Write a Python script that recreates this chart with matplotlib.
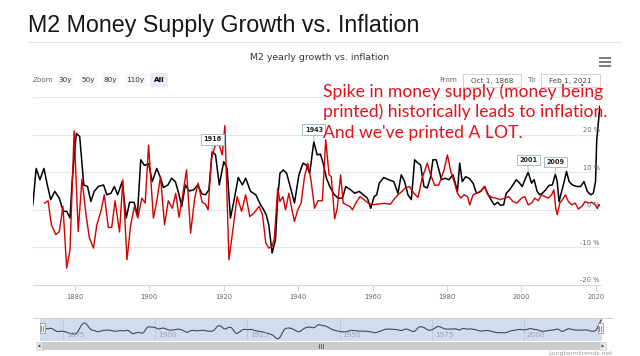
import numpy as np
import matplotlib
matplotlib.use("Agg")
import matplotlib.pyplot as plt
from matplotlib.patches import Rectangle, Polygon
from matplotlib.lines import Line2D

# ---------------- data ----------------
m2_years = [1868.7, 1869.6, 1870.6, 1871.7, 1872.6, 1873.5, 1874.6, 1875.8, 1876.9, 1877.8,
            1878.7, 1879.3, 1879.8, 1880.4, 1881.3, 1882.4, 1883.4, 1884.3, 1885.2, 1886.3,
            1887.7, 1888.6, 1889.7, 1890.6, 1891.5, 1892.7, 1893.8, 1894.7, 1895.9, 1896.8,
            1897.7, 1898.7, 1899.8, 1900.8, 1902.0, 1902.9, 1903.8, 1905.0, 1906.0, 1907.0,
            1907.9, 1908.7, 1909.7, 1910.7, 1911.9, 1913.0, 1914.2, 1915.1, 1916.0, 1916.9,
            1917.8, 1918.8, 1920.0, 1920.9, 1921.8, 1922.7, 1923.9, 1925.0, 1925.9, 1927.2,
            1928.6, 1929.9, 1930.5, 1931.4, 1932.1, 1933.0, 1933.9, 1934.5, 1935.1, 1936.0,
            1936.9, 1938.1, 1939.0, 1940.2, 1941.3, 1942.2, 1943.1, 1944.2, 1945.1, 1946.0,
            1946.7, 1947.6, 1948.5, 1949.6, 1950.7, 1951.9, 1952.8, 1954.1, 1955.2, 1956.4,
            1957.5, 1958.6, 1959.5, 1960.4, 1961.1, 1961.8, 1963.0, 1964.3, 1965.7, 1966.8,
            1967.7, 1968.6, 1969.5, 1970.4, 1971.3, 1972.2, 1972.9, 1973.8, 1974.7, 1975.6,
            1976.2, 1977.1, 1977.8, 1978.5, 1979.4, 1980.5, 1981.6, 1982.8, 1983.4, 1984.1,
            1985.0, 1985.9, 1987.0, 1987.9, 1989.1, 1990.0, 1990.9, 1991.8, 1992.7, 1993.6,
            1994.3, 1995.2, 1995.9, 1996.8, 1997.7, 1998.6, 1999.5, 2000.2, 2001.1, 2001.8,
            2002.7, 2003.4, 2004.2, 2004.9, 2005.6, 2006.5, 2007.4, 2008.3, 2009.1, 2009.6,
            2010.1, 2010.9, 2011.6, 2012.1, 2012.8, 2013.7, 2014.8, 2015.9, 2016.8, 2017.7,
            2018.6, 2019.3, 2019.9, 2020.2, 2020.7, 2021.05]
m2_growth = [1.3, 11.0, 8.0, 11.0, 6.6, 2.7, 4.9, 3.1, -0.4, -0.4,
             -2.2, 8.0, 14.0, 20.3, 19.5, 6.6, 6.2, 2.2, 4.9, 6.2,
             6.6, 4.0, 4.4, 6.2, 4.0, 7.5, -2.2, 2.0, 2.0, -1.3,
             13.3, 11.8, 12.3, 7.5, 11.0, 8.8, 5.9, 6.6, 8.4, 7.5,
             4.4, 0.9, 6.6, 5.0, 5.3, 6.6, 4.2, 4.0, 5.3, 15.5,
             14.6, 6.6, 12.8, 11.0, -2.2, 2.2, 8.6, 6.6, 8.4, 4.9,
             4.0, 1.3, 0.4, -1.3, -4.0, -11.5, -8.0, 3.1, 9.7, 10.6,
             9.7, 5.3, 1.8, 9.3, 12.4, 11.9, 9.7, 18.1, 14.6, 14.8,
             12.4, 8.4, 6.2, 4.2, 3.1, 3.1, 6.2, 5.3, 4.4, 4.9,
             4.0, 3.1, 0.4, 3.5, 4.0, 7.1, 8.6, 8.0, 7.5, 4.4,
             9.3, 7.5, 4.0, 2.7, 13.3, 12.4, 11.9, 6.2, 5.8, 8.8,
             13.3, 13.3, 10.6, 8.0, 8.4, 8.0, 9.3, 4.9, 12.4, 7.5,
             8.8, 8.4, 7.1, 4.4, 4.9, 6.2, 4.4, 2.7, 1.3, 2.0,
             1.2, 1.3, 4.4, 5.3, 6.6, 8.0, 7.1, 6.2, 8.4, 10.0,
             7.1, 8.0, 4.9, 4.0, 4.4, 5.3, 6.5, 6.6, 9.5, 7.5,
             2.2, 5.3, 8.0, 10.2, 7.5, 6.6, 6.2, 6.2, 7.5, 4.9,
             4.0, 4.4, 7.5, 18.1, 23.5, 27.5]

cpi_years = [1871.9, 1872.8, 1873.7, 1874.9, 1875.8, 1876.8, 1877.8, 1878.7, 1879.8, 1880.9,
             1881.9, 1883.0, 1883.9, 1885.0, 1885.9, 1887.0, 1887.9, 1889.0, 1889.9, 1890.8,
             1892.0, 1892.9, 1894.0, 1895.0, 1896.0, 1896.9, 1898.0, 1898.9, 1899.8, 1901.1,
             1902.0, 1903.0, 1904.1, 1905.1, 1906.2, 1907.1, 1908.0, 1908.9, 1910.0, 1911.1,
             1912.2, 1913.1, 1914.2, 1915.1, 1915.8, 1916.7, 1917.6, 1918.5, 1919.6, 1920.3,
             1921.4, 1922.4, 1923.6, 1924.8, 1925.9, 1927.0, 1928.1, 1929.5, 1930.4, 1931.3,
             1932.1, 1933.0, 1933.6, 1934.5, 1935.1, 1935.9, 1936.6, 1937.5, 1938.4, 1939.0,
             1939.9, 1940.8, 1941.7, 1942.6, 1943.5, 1944.4, 1945.3, 1946.5, 1947.4, 1948.3,
             1948.9, 1949.8, 1950.5, 1951.4, 1952.1, 1953.0, 1953.9, 1954.6, 1955.5, 1956.6,
             1957.7, 1958.8, 1959.7, 1961.1, 1963.2, 1964.8, 1965.7, 1966.8, 1967.9, 1968.8,
             1969.9, 1971.1, 1972.2, 1973.3, 1974.7, 1975.6, 1976.7, 1977.8, 1979.2, 1980.1,
             1981.0, 1981.9, 1982.8, 1983.7, 1984.6, 1985.5, 1986.1, 1987.0, 1988.2, 1989.1,
             1990.2, 1990.9, 1992.1, 1993.1, 1994.3, 1995.5, 1996.6, 1997.7, 1998.8, 2000.0,
             2000.9, 2001.8, 2002.7, 2003.6, 2004.5, 2005.4, 2006.3, 2007.2, 2008.1, 2008.7,
             2009.2, 2009.6, 2010.3, 2011.0, 2011.8, 2012.6, 2013.5, 2014.4, 2015.3, 2016.2,
             2017.1, 2018.0, 2018.9, 2019.8, 2020.4, 2020.8, 2021.05]
inflation = [1.8, 2.4, -4.0, -6.6, -5.8, 0.9, -15.5, -10.6, 21.0, -5.8,
             8.2, -1.3, -7.5, -10.2, -4.0, -0.4, 4.0, -4.7, -4.7, 2.4,
             -5.9, 8.0, -13.3, -4.0, 0.9, -2.2, 3.1, 1.8, 17.2, -2.2,
             2.2, 8.8, -4.0, 2.4, 0.4, 4.4, -2.0, 3.5, 10.6, -6.2,
             3.1, 7.1, 2.0, 1.5, 0.0, 13.7, 16.8, 18.1, 14.6, 22.4,
             -13.3, -5.8, 3.5, -0.4, 4.0, -1.8, -0.9, 0.9, -1.3, -8.8,
             -10.2, -9.7, -7.5, 5.8, 2.2, 3.5, 0.0, 4.4, -0.4, -3.1,
             0.0, 1.8, 8.8, 12.4, 7.5, 0.4, 2.4, 2.4, 18.6, 9.3,
             8.8, -2.4, 0.4, 9.3, 1.8, 1.3, 0.9, 0.0, 1.8, 3.5,
             2.7, 1.8, 1.3, 1.5, 1.7, 1.5, 2.7, 4.0, 4.9, 5.8,
             6.2, 4.4, 3.3, 8.4, 12.4, 9.3, 6.5, 6.6, 10.6, 14.6,
             10.2, 7.5, 4.4, 3.1, 4.0, 3.5, 1.3, 4.0, 4.5, 5.0,
             6.2, 4.0, 3.3, 3.1, 2.7, 3.1, 3.5, 2.2, 1.8, 3.1,
             3.5, 1.3, 1.8, 3.1, 2.4, 4.0, 3.5, 3.1, 4.0, 5.3,
             0.4, -1.3, 1.8, 2.7, 4.0, 2.2, 1.3, 1.8, 0.2, 0.9,
             2.2, 1.8, 2.0, 1.3, 0.3, 1.4, 1.2]

flag_labels = ["1916", "1943", "2001", "2009"]
flag_years = [1916.9, 1944.2, 2001.8, 2009.1]

x_ticks = [1880, 1900, 1920, 1940, 1960, 1980, 2000, 2020]
y_ticks = [-20, -10, 0, 10, 20]
nav_ticks = [1875, 1900, 1925, 1950, 1975, 2000]
zoom_buttons = ["30y", "50y", "80y", "110y", "All"]
date_from, date_to = "Oct 1, 1868", "Feb 1, 2021"

title = "M2 Money Supply Growth vs. Inflation"
chart_title = "M2 yearly growth vs. inflation"
note_lines = ["Spike in money supply (money being",
              "printed) historically leads to inflation.",
              "And we've printed A LOT."]
credit = "Longtermtrends.net"

# ---------------- figure ----------------
W, H = 640, 356
fig = plt.figure(figsize=(W / 100, H / 100), dpi=100)
fig.patch.set_facecolor("white")
renderer = fig.canvas.get_renderer()


def fx(px):
    return px / W


def fy(py):
    return 1 - py / H


def fit(t, width_px):
    bb = t.get_window_extent(renderer=renderer)
    t.set_fontsize(t.get_fontsize() * width_px / bb.width)


def frect(x0, y0, x1, y1, **kw):
    r = Rectangle((fx(x0), fy(y1)), (x1 - x0) / W, (y1 - y0) / H,
                  transform=fig.transFigure, **kw)
    fig.add_artist(r)
    return r


def fline(xs, ys, **kw):
    fig.add_artist(Line2D([fx(v) for v in xs], [fy(v) for v in ys],
                          transform=fig.transFigure, **kw))


# page title
t = fig.text(fx(28), fy(32), title, ha="left", va="baseline",
             fontsize=16, family="Liberation Sans", color="#161616")
fit(t, 392)
fline([28, 620], [42, 42], color="#e3e3e3", lw=0.8)

# chart title
t = fig.text(fx(320), fy(58), chart_title, ha="center", va="center",
             fontsize=7, family="DejaVu Sans", color="#333333")
fit(t, 140)

# hamburger icon
for yy in (58, 62, 66):
    fline([599, 611], [yy, yy], color="#666666", lw=1.2, solid_capstyle="butt")

# zoom buttons
fig.text(fx(33), fy(80), "Zoom", ha="left", va="center", fontsize=5.2,
         family="DejaVu Sans", color="#666666")
btn_x = [(57, 74), (80, 97), (102, 119), (125, 146), (150, 168)]
for lab, (x0, x1) in zip(zoom_buttons, btn_x):
    sel = lab == "All"
    frect(x0, 73, x1, 87, facecolor="#e6ebf5" if sel else "#f7f7f7",
          edgecolor="none")
    fig.text(fx((x0 + x1) / 2), fy(80), lab, ha="center", va="center",
             fontsize=5.2, family="DejaVu Sans", color="#000000" if sel else "#333333",
             fontweight="bold" if sel else "normal")

# date range inputs
fig.text(fx(457), fy(80.5), "From", ha="right", va="center", fontsize=5.2,
         family="DejaVu Sans", color="#666666")
frect(463, 74, 521, 87, facecolor="white", edgecolor="#cccccc", lw=0.6)
fig.text(fx(492), fy(80.5), date_from, ha="center", va="center", fontsize=5.2,
         family="DejaVu Sans", color="#444444")
fig.text(fx(536), fy(80.5), "To", ha="right", va="center", fontsize=5.2,
         family="DejaVu Sans", color="#666666")
frect(541, 74, 600, 87, facecolor="white", edgecolor="#cccccc", lw=0.6)
fig.text(fx(570.5), fy(80.5), date_to, ha="center", va="center", fontsize=5.2,
         family="DejaVu Sans", color="#444444")

# ---------------- main plot ----------------
x0_year, x1_year = 1868.75, 2021.1
ax = fig.add_axes([fx(33), fy(285), fx(600) - fx(33), fy(97) - fy(285)])
ax.set_xlim(x0_year, x1_year)
ax.set_ylim(-20, 30)
ax.set_facecolor("none")
for s in ("top", "right", "left"):
    ax.spines[s].set_visible(False)
ax.spines["bottom"].set_color("#ccd6eb")
ax.spines["bottom"].set_linewidth(0.8)
for v in y_ticks[1:] + [30]:
    ax.axhline(v, color="#e6e6e6", lw=0.8, zorder=0)
ax.set_yticks([])
ax.set_xticks(x_ticks)
ax.set_xticklabels([str(v) for v in x_ticks])
ax.tick_params(axis="x", length=4, width=0.8, color="#ccd6eb", labelsize=4.9,
               labelcolor="#666666", pad=2.5)
for lab in ax.get_xticklabels():
    lab.set_family("DejaVu Sans")

ax.plot(m2_years, m2_growth, color="#000000", lw=1.1, zorder=3, solid_joinstyle="round")
ax.plot(cpi_years, inflation, color="#d40000", lw=1.0, zorder=4, solid_joinstyle="round")

ytr = ax.get_yaxis_transform()
for v in y_ticks:
    ax.text(1.0, v + 0.45, f"{v} %", transform=ytr, ha="right", va="bottom",
            fontsize=4.9, family="DejaVu Sans", color="#666666", zorder=6)

for lab, yr in zip(flag_labels, flag_years):
    val = float(np.interp(yr, m2_years, m2_growth))
    ax.annotate(lab, xy=(yr, val), xytext=(0, 6.5), textcoords="offset points",
                ha="center", va="bottom", fontsize=4.7, fontweight="bold",
                family="DejaVu Sans", color="#222222", annotation_clip=False,
                bbox=dict(boxstyle="square,pad=0.35", fc="white", ec="#a3bfd0", lw=0.7),
                arrowprops=dict(arrowstyle="-", color="#a3bfd0", lw=0.7,
                                shrinkA=0, shrinkB=0), zorder=7)

# red annotation
line_base = [97.3, 117.5, 137.7]
txts = []
for s, yb in zip(note_lines, line_base):
    txts.append(fig.text(fx(323), fy(yb), s, ha="left", va="baseline",
                         fontsize=12, family="Lato", color="#e3121b", zorder=10))
bb = txts[1].get_window_extent(renderer=renderer)
scale = 283 / bb.width
for tt in txts:
    tt.set_fontsize(12 * scale)

# ---------------- navigator ----------------
fline([33, 612], [318, 318], color="#cccccc", lw=0.7)
nav = fig.add_axes([fx(40), fy(341), fx(602) - fx(40), (341 - 318) / H])
nav.set_xlim(x0_year, x1_year)
nav.set_facecolor("#d3dbee")
for s in nav.spines.values():
    s.set_visible(False)
nav.set_xticks([])
nav.set_yticks([])
grid = np.arange(m2_years[0], m2_years[-1], 1 / 12)
vals = np.interp(grid, m2_years, m2_growth)
k = 15
padded = np.pad(vals, k // 2, mode="edge")
smooth = np.convolve(padded, np.ones(k) / k, mode="valid")
nav.plot(grid, smooth, color="#3f4a5a", lw=0.8)
lo, hi = smooth.min(), smooth.max()
nav.set_ylim(lo - 0.12 * (hi - lo), hi + 0.1 * (hi - lo))
for v in nav_ticks:
    nav.axvline(v, color="#bcc6dc", lw=0.6, zorder=0)
    nav.annotate(str(v), xy=(v, 0), xycoords=("data", "axes fraction"),
                 xytext=(2, 2), textcoords="offset points", ha="left", va="bottom",
                 fontsize=5.2, family="DejaVu Sans", color="#9aa3b3")

# handles
for hx in (42, 600):
    frect(hx - 2.5, 323, hx + 2.5, 333, facecolor="#f2f2f2", edgecolor="#999999",
          lw=0.6, zorder=5)
    fline([hx - 0.7, hx - 0.7], [325.5, 330.5], color="#666666", lw=0.5, zorder=6)
    fline([hx + 0.7, hx + 0.7], [325.5, 330.5], color="#666666", lw=0.5, zorder=6)

# scrollbar
frect(36, 342, 606, 350, facecolor="#f2f2f2", edgecolor="none")
frect(42, 342, 600, 350, facecolor="#cccccc", edgecolor="none")
frect(36, 342, 42, 350, facecolor="#e6e6e6", edgecolor="#cccccc", lw=0.4)
frect(600, 342, 606, 350, facecolor="#e6e6e6", edgecolor="#cccccc", lw=0.4)
for pts in ([(40.3, 344.5), (40.3, 347.5), (38.0, 346)],
            [(601.7, 344.5), (601.7, 347.5), (604.0, 346)]):
    fig.add_artist(Polygon([(fx(a), fy(b)) for a, b in pts], closed=True,
                           transform=fig.transFigure, facecolor="#333333",
                           edgecolor="none"))
for gx in (319, 321, 323):
    fline([gx, gx], [344, 348], color="#333333", lw=0.5)

fig.text(fx(613), fy(353.5), credit, ha="right", va="center", fontsize=4.6,
         family="DejaVu Sans", color="#999999")

fig.savefig("out.png", dpi=100, facecolor="white")
